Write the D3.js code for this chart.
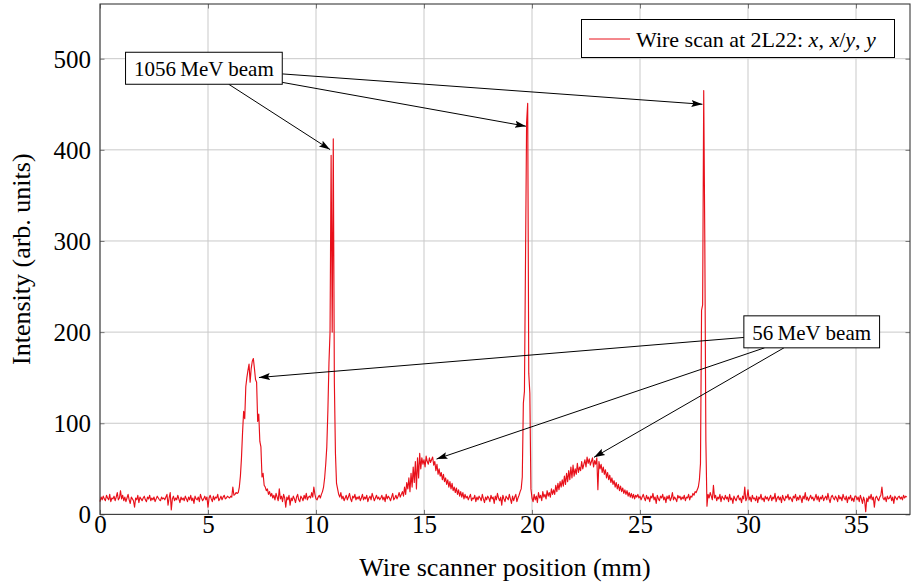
<!DOCTYPE html>
<html>
<head>
<meta charset="utf-8">
<script src="https://cdn.jsdelivr.net/npm/d3@7"></script>
<style>
  html, body { margin: 0; padding: 0; background: #fff; }
  svg { display: block; }
  text { font-family: "Liberation Serif", "Times New Roman", serif; fill: #000; }
</style>
</head>
<body>
<svg id="chart" width="912" height="586"></svg>
<script>
// ---- data ----
const scanStart = 0;      // mm, first sample
const scanStep = 0.05;    // mm between samples
const intensity = [
  // 0.00 - 0.95
  14,19,16,20,17,15,21,18,16,22,14,18,17,20,15,19,24,16,18,26,
  // 1.00 - 1.95
  17,21,15,19,14,18,22,16,12,19,17,15,8,18,16,21,13,19,17,15,
  // 2.00 - 2.95
  18,20,16,14,19,17,21,15,18,16,19,14,17,20,18,16,15,19,17,18,
  // 3.00 - 3.95
  16,19,22,10,18,24,5,17,20,15,18,16,21,17,13,19,16,18,15,20,
  // 4.00 - 4.95
  17,14,19,16,21,15,18,12,20,17,16,19,14,22,18,15,17,20,16,19,
  // 5.00 - 5.95
  8,18,21,17,14,20,16,19,18,22,15,17,20,16,19,21,17,18,20,19,
  // 6.00 - 6.35
  18,20,19,30,21,22,24,23,
  // 6.40 - 7.95 (56 MeV, x)
  24,30,42,62,90,113,105,140,150,158,165,145,160,168,171,160,148,145,102,110,80,74,41,45,32,30,26,28,22,25,20,23,
  // 8.00 - 8.95
  18,21,16,23,19,15,28,17,20,14,22,18,8,19,16,21,10,18,15,20,
  // 9.00 - 9.95
  17,13,19,22,16,14,20,18,15,21,17,23,16,19,20,18,24,19,30,22,
  // 10.00 - 10.35
  17,16,19,21,18,22,25,30,
  // 10.40 - 10.95 (1056 MeV, x)
  40,55,74,114,166,200,394,200,412,145,67,34,
  // 11.00 - 11.95
  28,22,19,24,17,20,15,18,21,16,19,23,17,14,20,18,22,16,19,17,
  // 12.00 - 12.95
  20,15,18,22,16,19,17,21,14,18,20,16,23,19,15,18,21,17,19,16,
  // 13.00 - 13.95
  18,21,16,19,14,22,17,20,18,15,19,23,16,18,21,17,20,24,19,22,
  // 14.00 - 14.95 (56 MeV, x/y)
  25,20,30,22,35,28,40,25,45,30,52,35,58,28,62,40,67,50,62,55,
  // 15.00 - 15.95
  60,52,64,58,55,62,57,60,63,54,58,48,55,44,50,42,46,38,44,36,
  // 16.00 - 16.95
  40,33,38,30,36,28,34,26,30,24,29,22,27,20,25,19,24,17,22,18,
  // 17.00 - 17.95
  20,16,19,22,15,18,17,21,14,19,16,20,18,15,22,17,13,19,16,20,
  // 18.00 - 18.95
  18,14,21,17,19,12,20,16,23,18,15,19,10,21,17,14,20,18,16,22,
  // 19.00 - 19.50
  17,12,20,15,19,22,14,18,21,25,28,
  // 19.55 - 19.95 (1056 MeV, x/y)
  41,122,135,280,430,451,155,133,28,
  // 20.00 - 20.95
  18,14,22,16,20,13,24,18,21,15,25,19,22,17,26,20,24,19,28,22,
  // 21.00 - 21.95 (56 MeV, y)
  27,22,32,25,34,27,36,30,38,31,42,33,45,36,48,38,52,40,54,42,
  // 22.00 - 22.95
  50,44,56,46,52,48,58,50,55,60,52,63,56,61,54,58,62,52,59,55,
  // 23.00 - 23.95
  62,27,58,50,55,46,52,44,49,40,46,38,43,35,40,33,37,30,35,28,
  // 24.00 - 24.95
  33,26,31,25,29,23,27,22,26,20,24,19,23,18,22,17,21,19,22,18,
  // 25.00 - 25.95
  20,16,19,22,18,15,21,17,19,14,20,18,23,16,19,12,21,17,15,20,
  // 26.00 - 26.95
  18,22,16,19,13,20,17,21,15,18,24,16,19,17,14,21,18,20,16,19,
  // 27.00 - 27.65
  17,21,15,19,18,22,16,20,19,23,21,25,24,27,
  // 27.70 - 28.25 (1056 MeV, y)
  30,38,56,224,230,465,300,80,9,22,18,24,
  // 28.30 - 28.95
  20,16,32,18,21,15,19,17,22,14,20,18,16,21,
  // 29.00 - 29.95
  17,19,14,22,16,18,12,20,17,15,19,21,16,18,13,20,17,30,15,18,
  // 30.00 - 30.95
  27,16,19,14,21,17,18,15,20,13,19,17,22,16,18,14,20,17,19,15,
  // 31.00 - 31.95
  18,21,15,19,17,23,14,18,20,16,19,13,21,17,15,20,18,22,16,19,
  // 32.00 - 32.95
  17,14,20,18,22,15,19,16,21,18,13,20,17,24,16,19,15,18,21,17,
  // 33.00 - 33.95
  19,15,18,22,16,20,14,19,17,21,15,18,20,16,23,17,13,19,21,18,
  // 34.00 - 34.95
  16,20,18,14,21,17,19,15,22,18,16,20,13,19,17,21,15,18,14,20,
  // 35.00 - 35.95
  20,16,19,14,21,17,12,19,15,3,18,14,20,17,22,16,19,8,18,20,
  // 36.00 - 36.95
  17,15,19,21,30,18,16,19,14,20,17,18,21,15,19,12,20,18,16,19,
  // 37.00 - 37.35
  20,17,19,16,21,18,20,19
];

const xTicks = [0, 5, 10, 15, 20, 25, 30, 35];
const yTicks = [0, 100, 200, 300, 400, 500];
const xDomain = [0, 37.5];
const yDomain = [0, 560];

const seriesName = "Wire scan at 2L22: ";
const seriesMath = ["x", ", ", "x", "/", "y", ", ", "y"];

// annotation labels (data coords) and their arrow targets (data coords)
const annotationLabels = ["1056\u2009MeV beam", "56\u2009MeV beam"];
const annotationAt = [[4.81, 489.5], [32.95, 200.3]];
const annotationTargets = [
  [[10.65, 400.3], [19.72, 425.9], [27.89, 450]],
  [[7.36, 150.2], [15.58, 60.7], [22.87, 62.6]]
];

// ---- layout ----
const svg = d3.select("#chart");
const L = 100, R = 910, T = 4, B = 514.4;
const x = d3.scaleLinear().domain(xDomain).range([L, R]);
const y = d3.scaleLinear().domain(yDomain).range([B, T]);

const points = intensity.map((v, i) => [scanStart + i * scanStep, v]);
const lineColor = "#e8101a";

// grid
const grid = svg.append("g");
grid.selectAll(".gx").data(xTicks).join("line")
  .attr("x1", d => x(d)).attr("x2", d => x(d)).attr("y1", T).attr("y2", B)
  .attr("stroke", "#c9c9c9").attr("stroke-width", 1);
grid.selectAll(".gy").data(yTicks).join("line")
  .attr("y1", d => y(d)).attr("y2", d => y(d)).attr("x1", L).attr("x2", R)
  .attr("stroke", "#c9c9c9").attr("stroke-width", 1);

// data line
svg.append("path")
  .datum(points)
  .attr("fill", "none")
  .attr("stroke", lineColor)
  .attr("stroke-width", 1.15)
  .attr("stroke-linejoin", "round")
  .attr("d", d3.line().x(d => x(d[0])).y(d => y(d[1])));

// axes with inner ticks (pgfplots style)
const tickLen = 4.5;
const axB = svg.append("g").attr("transform", `translate(0,${B})`)
  .call(d3.axisBottom(x).tickValues(xTicks).tickSizeInner(-tickLen).tickSizeOuter(0).tickPadding(0));
const axT = svg.append("g").attr("transform", `translate(0,${T})`)
  .call(d3.axisTop(x).tickValues(xTicks).tickSizeInner(-tickLen).tickSizeOuter(0).tickFormat(""));
const axL = svg.append("g").attr("transform", `translate(${L},0)`)
  .call(d3.axisLeft(y).tickValues(yTicks).tickSizeInner(-tickLen).tickSizeOuter(0).tickPadding(0));
const axR = svg.append("g").attr("transform", `translate(${R},0)`)
  .call(d3.axisRight(y).tickValues(yTicks).tickSizeInner(-tickLen).tickSizeOuter(0).tickFormat(""));

[axB, axT, axL, axR].forEach(g => {
  g.select(".domain").remove();
  g.selectAll(".tick line").attr("stroke", "#777").attr("stroke-width", 1);
});
axB.selectAll(".tick text")
  .attr("y", 0).attr("dy", 0)
  .attr("transform", "translate(0,19)")
  .style("font-size", "25px").style("font-family", "Liberation Serif").attr("fill", "#000");
axL.selectAll(".tick text")
  .attr("x", -9).attr("dy", "8.5")
  .style("font-size", "25px").style("font-family", "Liberation Serif").attr("fill", "#000");

// frame
svg.append("rect")
  .attr("x", L).attr("y", T).attr("width", R - L).attr("height", B - T)
  .attr("fill", "none").attr("stroke", "#3a3a3a").attr("stroke-width", 1.1);

// axis labels
svg.append("text")
  .attr("x", (L + R) / 2).attr("y", 576)
  .attr("text-anchor", "middle").style("font-size", "26px")
  .text("Wire scanner position (mm)");
svg.append("text")
  .attr("transform", `translate(30,${(T + B) / 2}) rotate(-90)`)
  .attr("text-anchor", "middle").style("font-size", "26px")
  .text("Intensity (arb. units)");

// arrow marker
svg.append("defs").append("marker")
  .attr("id", "ah").attr("markerUnits", "userSpaceOnUse")
  .attr("markerWidth", 12).attr("markerHeight", 10)
  .attr("viewBox", "0 0 12 10").attr("refX", 11).attr("refY", 5)
  .attr("orient", "auto")
  .append("path").attr("d", "M0,1.5 L11,5 L0,8.5 L2,5 Z").attr("fill", "#000");

// annotations
annotationLabels.forEach((label, k) => {
  const cx = x(annotationAt[k][0]), cy = y(annotationAt[k][1]);
  const g = svg.append("g");
  const t = g.append("text").attr("x", cx).attr("y", cy + 8)
    .attr("text-anchor", "middle").style("font-size", "21px").text(label);
  const bb = t.node().getBBox();
  const padX = 8.5;
  const hw = bb.width / 2 + padX, hh = 16;
  // arrows from box centre, clipped at box border
  annotationTargets[k].forEach(tg => {
    const tx = x(tg[0]), ty = y(tg[1]);
    const dx = tx - cx, dy = ty - cy;
    const s = Math.min(hw / Math.abs(dx || 1e-9), hh / Math.abs(dy || 1e-9));
    svg.append("line")
      .attr("x1", cx + dx * s).attr("y1", cy + dy * s)
      .attr("x2", tx).attr("y2", ty)
      .attr("stroke", "#000").attr("stroke-width", 1)
      .attr("marker-end", "url(#ah)");
  });
  g.insert("rect", "text")
    .attr("x", cx - hw).attr("y", cy - hh).attr("width", 2 * hw).attr("height", 2 * hh)
    .attr("fill", "#fff").attr("stroke", "#000").attr("stroke-width", 1);
  g.raise();
});

// legend
const lg = svg.append("g");
lg.append("rect").attr("x", 581.5).attr("y", 19.5).attr("width", 313).attr("height", 38)
  .attr("fill", "#fff").attr("stroke", "#000").attr("stroke-width", 1);
lg.append("line").attr("x1", 589).attr("x2", 630).attr("y1", 39).attr("y2", 39)
  .attr("stroke", lineColor).attr("stroke-width", 1);
const lt = lg.append("text").attr("x", 636).attr("y", 47).style("font-size", "22px");
lt.append("tspan").text(seriesName);
seriesMath.forEach(s => {
  const isVar = (s === "x" || s === "y");
  lt.append("tspan").text(s).style("font-style", isVar ? "italic" : "normal");
});
</script>
</body>
</html>
